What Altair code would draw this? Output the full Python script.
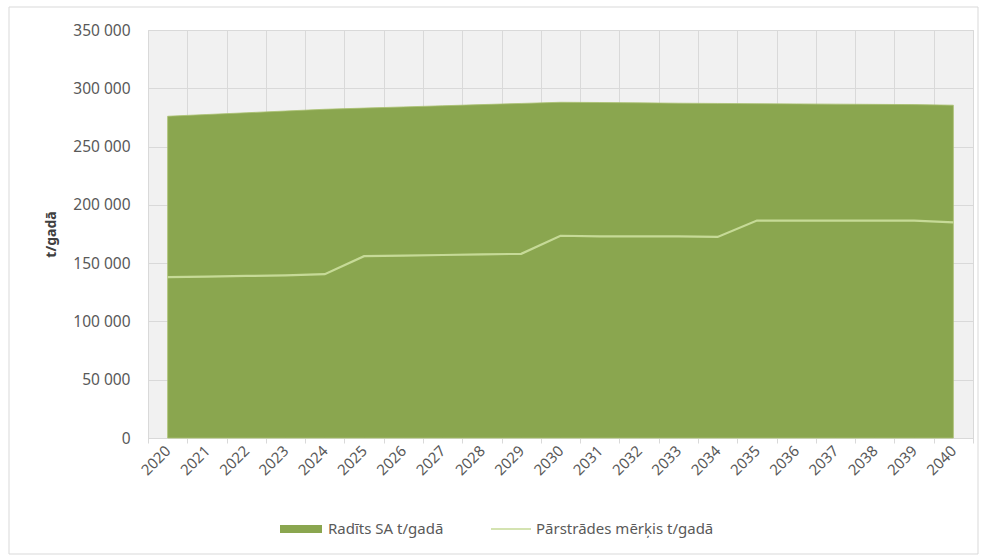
import altair as alt
import pandas as pd

years = [str(y) for y in range(2020, 2041)]
generated = [276000, 277500, 279000, 280500, 282000, 283000, 284000, 285000, 286000, 287000,
             288000, 287800, 287500, 287200, 287000, 286800, 286600, 286400, 286200, 286000, 285500]
target = [138000, 138500, 139000, 139500, 140500, 156000, 156500, 157000, 157500, 158000,
          173500, 173000, 173000, 173000, 172500, 186500, 186500, 186500, 186500, 186500, 185000]
series_names = ["Radīts SA t/gadā", "Pārstrādes mērķis t/gadā"]
y_ticks = [0, 50000, 100000, 150000, 200000, 250000, 300000, 350000]

df = pd.DataFrame({
    "year": years * 2,
    "series": [series_names[0]] * len(years) + [series_names[1]] * len(years),
    "value": generated + target,
})

FONT = "Noto Sans"
GREEN = "#8aa64f"
LIGHT = "#c6da97"
GRID = "#d9d9d9"
TXT = "#595959"

x_enc = alt.X(
    "year:O",
    bandPosition=0.5,
    scale=alt.Scale(type="band", paddingInner=0, paddingOuter=0),
    axis=alt.Axis(
        title=None, labelAngle=-45, labelAlign="right", labelBaseline="middle",
        tickBand="extent", grid=True, gridColor=GRID, domainColor=GRID,
        tickColor=GRID, tickSize=5, labelColor=TXT, labelFont=FONT,
        labelFontSize=15, labelPadding=5,
    ),
)
y_enc = alt.Y(
    "value:Q",
    scale=alt.Scale(domain=[0, 350000]),
    axis=alt.Axis(
        values=y_ticks, title="t/gadā", titleFont=FONT, titleFontSize=14,
        titleFontWeight="bold", titleColor="#404040", titlePadding=14,
        labelExpr="replace(format(datum.value, ','), ',', ' ')",
        labelColor=TXT, labelFont=FONT, labelFontSize=15.5, labelPadding=18,
        domain=False, ticks=False, gridColor=GRID,
    ),
)

base = alt.Chart(df)

area = base.transform_filter(alt.datum.series == series_names[0]).mark_area(
    stroke="#a9c070", strokeWidth=0.8
).encode(
    x=x_enc,
    y=y_enc,
    fill=alt.Fill(
        "series:N",
        scale=alt.Scale(domain=[series_names[0]], range=[GREEN]),
        legend=alt.Legend(
            title=None, orient="none", legendX=132, legendY=478, padding=0,
            symbolType="M-1,-0.19H1V0.19H-1Z", symbolSize=1764, symbolStrokeWidth=0,
            labelFont=FONT, labelFontSize=15, labelColor=TXT, labelOffset=6, labelLimit=0,
        ),
    ),
)

line = base.transform_filter(alt.datum.series == series_names[1]).mark_line(
    strokeWidth=2.2
).encode(
    x=x_enc,
    y=y_enc,
    stroke=alt.Stroke(
        "series:N",
        scale=alt.Scale(domain=[series_names[1]], range=[LIGHT]),
        legend=alt.Legend(
            title=None, orient="none", legendX=342, legendY=478, padding=0,
            symbolType="M-1,0H1", symbolSize=1600, symbolStrokeWidth=1.5,
            labelFont=FONT, labelFontSize=15, labelColor=TXT, labelOffset=4, labelLimit=0,
        ),
    ),
)

frame = alt.Chart(pd.DataFrame({"f": [0]})).mark_rect(
    fill=None, stroke=GRID, strokeWidth=1
).encode(
    x=alt.value(-139), x2=alt.value(830), y=alt.value(-23), y2=alt.value(524)
)

chart = alt.layer(frame, area, line).resolve_scale(fill="independent", stroke="independent").properties(
    width=825, height=408,
    autosize=alt.AutoSizeParams(type="none"),
    padding={"left": 148, "top": 30, "right": 16, "bottom": 119},
    background="white",
).configure_view(fill="#f1f1f1", stroke=GRID)

chart.save("out.html", embed_options={"renderer": "svg", "actions": False})
